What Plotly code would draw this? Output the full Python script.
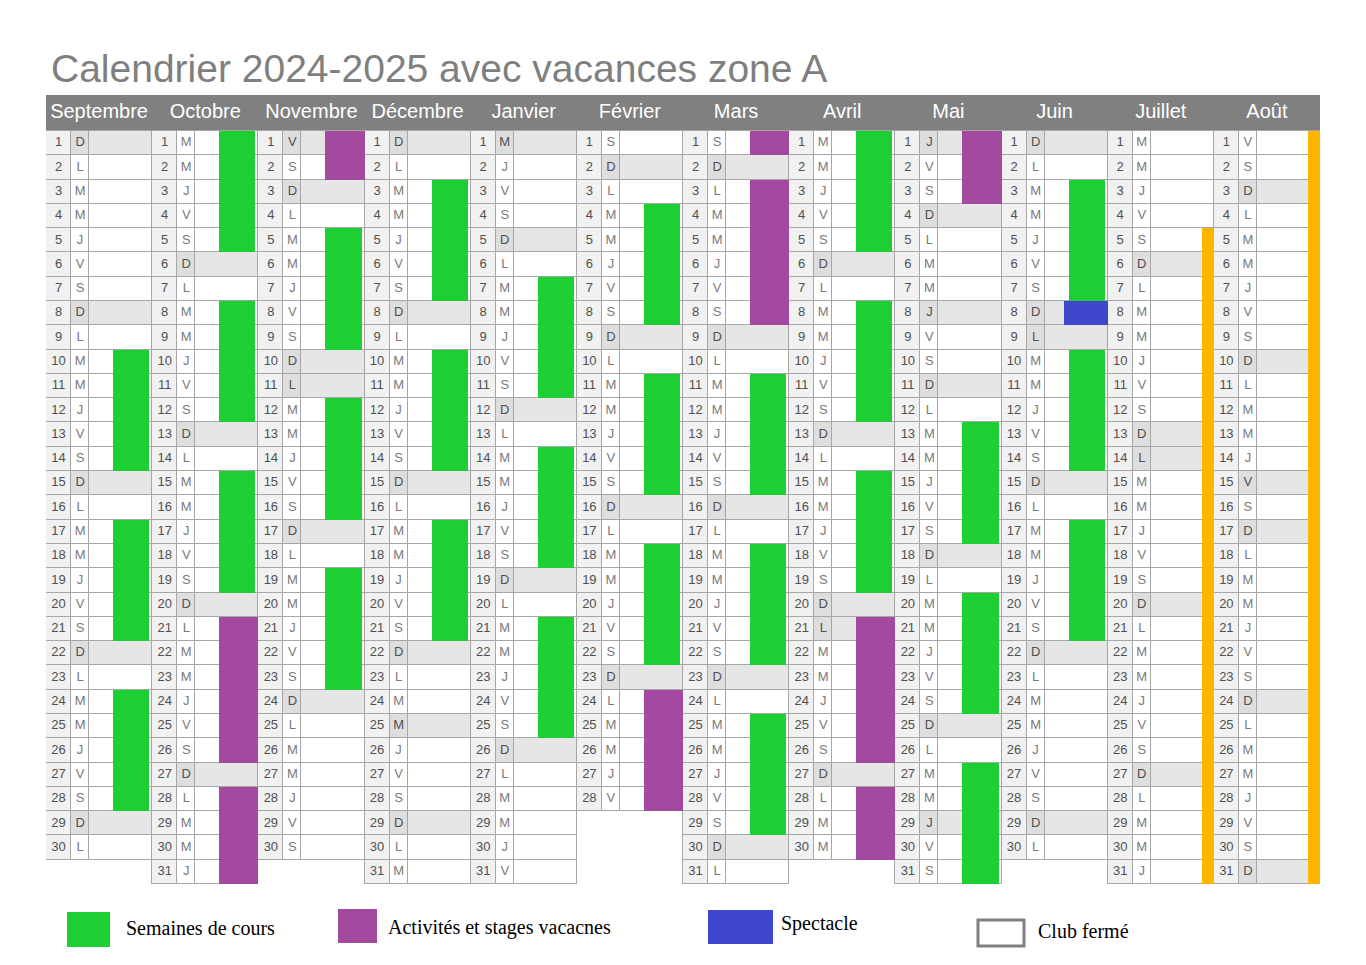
import datetime as dt
import plotly.graph_objects as go

# ---------------- data ----------------
months = ["Septembre", "Octobre", "Novembre", "Décembre", "Janvier", "Février",
          "Mars", "Avril", "Mai", "Juin", "Juillet", "Août"]
month_numbers = [9, 10, 11, 12, 1, 2, 3, 4, 5, 6, 7, 8]
years = [2024, 2024, 2024, 2024, 2025, 2025, 2025, 2025, 2025, 2025, 2025, 2025]
weekday_letters = ["L", "M", "M", "J", "V", "S", "D"]

# public holidays shown like Sundays: (month index, day)
holidays = [(2, 1), (2, 11), (3, 25), (4, 1), (7, 21), (8, 1), (8, 8), (8, 29),
            (9, 9), (10, 14), (11, 15)]

# (month index, first day, last day)
course_weeks = [(0, 10, 14), (0, 17, 21), (0, 24, 28),
                (1, 1, 5), (1, 8, 12), (1, 15, 19),
                (2, 5, 9), (2, 12, 16), (2, 19, 23),
                (3, 3, 7), (3, 10, 14), (3, 17, 21),
                (4, 7, 11), (4, 14, 18), (4, 21, 25),
                (5, 4, 8), (5, 11, 15), (5, 18, 22),
                (6, 11, 15), (6, 18, 22), (6, 25, 29),
                (7, 1, 5), (7, 8, 12), (7, 15, 19),
                (8, 13, 17), (8, 20, 24), (8, 27, 31),
                (9, 3, 7), (9, 10, 14), (9, 17, 21)]
activity_periods = [(1, 21, 26), (1, 28, 31), (2, 1, 2),
                    (5, 24, 28), (6, 1, 1), (6, 3, 8),
                    (7, 21, 26), (7, 28, 30), (8, 1, 3)]
spectacle_days = [(9, 8, 8)]
closed_periods = [(10, 5, 31), (11, 1, 31)]

legend_labels = ["Semaines de cours", "Activités et stages vacacnes", "Spectacle", "Club fermé"]

# ---------------- style ----------------
GREEN = "#1ecf33"
PURPLE = "#a24a9f"
BLUE = "#3f48cc"
ORANGE = "#ffb400"
HEADER = "#808080"
GRID = "#a6a6a6"
NUM_BG = "#f1f1f1"
SUN_LET = "#dedede"
SUN_WIDE = "#e6e6e6"
FONT = "Liberation Sans"

NUM_W = 0.236
LET_W = 0.170
WIDE_X0 = NUM_W + LET_W
HEADER_ROWS = 1.482

W, H = 1366, 965
ML, MR, MT, MB = 46, 46, 95, 81
PLOT_W = W - ML - MR
PLOT_H = H - MT - MB


def pxx(x):
    return (x - ML) / PLOT_W


def pxy(y):
    return (H - MB - y) / PLOT_H


# ---------------- build cells ----------------
num_y, num_base = [], []
let_y, let_base, let_col = [], [], []
wide_y, wide_base, wide_col = [], [], []
txt_num_x, txt_num_y, txt_num = [], [], []
txt_let_x, txt_let_y, txt_let, txt_let_col = [], [], [], []

hol_set = set(holidays)
for mi, (mn, yr) in enumerate(zip(month_numbers, years)):
    d = dt.date(yr, mn, 1)
    while d.month == mn:
        day = d.day
        wd = d.weekday()
        dark = wd == 6 or (mi, day) in hol_set
        num_y.append(day)
        num_base.append(mi)
        let_y.append(day)
        let_base.append(mi + NUM_W)
        let_col.append(SUN_LET if dark else "white")
        wide_y.append(day)
        wide_base.append(mi + WIDE_X0)
        wide_col.append(SUN_WIDE if dark else "white")
        txt_num_x.append(mi + NUM_W / 2)
        txt_num_y.append(day)
        txt_num.append(str(day))
        txt_let_x.append(mi + NUM_W + LET_W / 2)
        txt_let_y.append(day)
        txt_let.append(weekday_letters[wd])
        txt_let_col.append("#505050" if dark else "#7a7a7a")
        d += dt.timedelta(days=1)

fig = go.Figure()
cell_line = dict(color=GRID, width=1)
fig.add_trace(go.Bar(orientation="h", y=num_y, x=[NUM_W] * len(num_y), base=num_base,
                     width=1, marker=dict(color=NUM_BG, line=cell_line), hoverinfo="skip"))
fig.add_trace(go.Bar(orientation="h", y=let_y, x=[LET_W] * len(let_y), base=let_base,
                     width=1, marker=dict(color=let_col, line=cell_line), hoverinfo="skip"))
fig.add_trace(go.Bar(orientation="h", y=wide_y, x=[1 - WIDE_X0] * len(wide_y), base=wide_base,
                     width=1, marker=dict(color=wide_col, line=cell_line), hoverinfo="skip"))


def period_bars(periods, x0, x1, color):
    return go.Bar(orientation="v",
                  x=[m + (x0 + x1) / 2 for m, s, e in periods],
                  y=[e - s + 1 for m, s, e in periods],
                  base=[s - 0.5 for m, s, e in periods],
                  width=x1 - x0,
                  marker=dict(color=color, line=dict(width=0)),
                  hoverinfo="skip")


fig.add_trace(period_bars(course_weeks, 0.632, 0.972, GREEN))
fig.add_trace(period_bars(activity_periods, 0.632, 1.0, PURPLE))
fig.add_trace(period_bars(spectacle_days, 0.585, 1.0, BLUE))
fig.add_trace(period_bars(closed_periods, 0.887, 1.0, ORANGE))

fig.add_trace(go.Scatter(x=txt_num_x, y=txt_num_y, text=txt_num, mode="text",
                         textfont=dict(family=FONT, size=13, color="#505050"),
                         hoverinfo="skip"))
fig.add_trace(go.Scatter(x=txt_let_x, y=txt_let_y, text=txt_let, mode="text",
                         textfont=dict(family=FONT, size=13, color=txt_let_col),
                         hoverinfo="skip"))

# month header band
fig.add_shape(type="rect", xref="x", yref="y", x0=0, x1=12, y0=0.5 - HEADER_ROWS, y1=0.5,
              fillcolor=HEADER, line=dict(width=0), layer="below")
fig.add_trace(go.Scatter(x=[i + 0.5 for i in range(12)],
                         y=[0.5 - HEADER_ROWS / 2] * 12,
                         text=months, mode="text",
                         textfont=dict(family=FONT, size=20, color="white"),
                         hoverinfo="skip", cliponaxis=False))

# title
fig.add_annotation(text="Calendrier 2024-2025 avec vacances zone A", xref="paper", yref="paper",
                   x=pxx(49), y=pxy(68), xanchor="left", yanchor="middle", showarrow=False,
                   font=dict(family=FONT, size=39, color="#7f7f7f"))

# legend
legend_boxes = [(67, 912, 110, 947, GREEN, None), (338, 909, 377, 943, PURPLE, None),
                (708, 910, 773, 944, BLUE, None), (978, 920, 1024, 946, "white", HEADER)]
legend_text_pos = [(124, 928), (386, 927), (779, 924), (1036, 931)]
for (x0, y0, x1, y1, col, lc), lab, (tx, ty) in zip(legend_boxes, legend_labels, legend_text_pos):
    fig.add_shape(type="rect", xref="paper", yref="paper", x0=pxx(x0), x1=pxx(x1),
                  y0=pxy(y1), y1=pxy(y0), fillcolor=col,
                  line=dict(width=3 if lc else 0, color=lc or col))
    fig.add_annotation(text=lab, xref="paper", yref="paper", x=pxx(tx), y=pxy(ty),
                       xanchor="left", yanchor="middle", showarrow=False,
                       font=dict(family="Liberation Serif", size=20, color="black"))

fig.update_layout(
    width=W, height=H, margin=dict(l=ML, r=MR, t=MT, b=MB),
    paper_bgcolor="white", plot_bgcolor="white", showlegend=False,
    barmode="overlay", bargap=0,
    xaxis=dict(range=[0, 12], visible=False, showgrid=False, zeroline=False, fixedrange=True),
    yaxis=dict(range=[31.5, 0.5 - HEADER_ROWS], visible=False, showgrid=False, zeroline=False,
               fixedrange=True),
)

fig.write_html("out.html", config={"displayModeBar": False},
               post_script="document.body.style.margin='0px';")
